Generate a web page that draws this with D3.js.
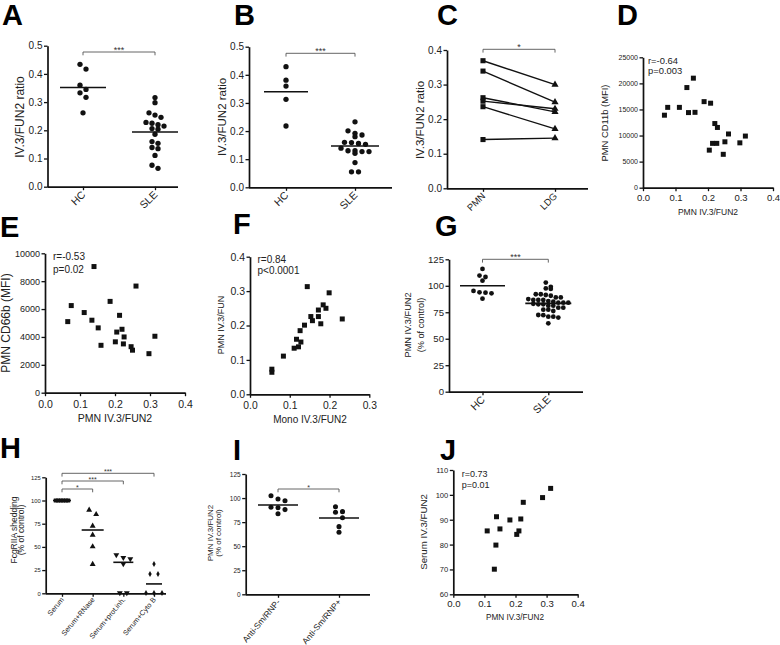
<!DOCTYPE html>
<html>
<head>
<meta charset="utf-8">
<script src="https://cdn.jsdelivr.net/npm/d3@7"></script>
<style>
    body { margin: 0; background: #fff; }
    svg { font-family: "Liberation Sans", Arial, sans-serif; }
</style>
</head>
<body>
<svg id="fig" width="780" height="645"></svg>
<script>
// ---- data ----
const groupCats = ["HC", "SLE"]

const aHC = [0.434, 0.417, 0.360, 0.345, 0.333, 0.317, 0.262]
const aSLE = [0.316, 0.298, 0.262, 0.254, 0.246, 0.228, 0.225, 0.220, 0.215, 0.206, 0.204, 0.186, 0.160, 0.154, 0.139, 0.135, 0.111, 0.076, 0.065]
const aMeans = [0.352, 0.194]

const bHC = [0.429, 0.381, 0.360, 0.313, 0.218]
const bSLE = [0.233, 0.201, 0.192, 0.186, 0.180, 0.160, 0.159, 0.156, 0.153, 0.139, 0.130, 0.130, 0.127, 0.127, 0.121, 0.088, 0.055, 0.055]
const bMeans = [0.340, 0.147]

const cCats = ["PMN", "LDG"]
const cPMN = [0.369, 0.339, 0.262, 0.252, 0.236, 0.141]
const cLDG = [0.300, 0.249, 0.221, 0.230, 0.172, 0.145]

const dX = [0.066, 0.076, 0.112, 0.140, 0.135, 0.155, 0.160, 0.188, 0.208, 0.221, 0.229, 0.214, 0.227, 0.204, 0.252, 0.263, 0.247, 0.298, 0.315]
const dY = [13900, 15400, 15400, 14400, 19200, 21000, 14450, 16500, 16200, 12300, 11550, 8500, 8500, 7200, 8800, 10300, 6400, 8600, 9900]

const eX = [0.065, 0.075, 0.112, 0.134, 0.140, 0.152, 0.160, 0.186, 0.201, 0.205, 0.213, 0.220, 0.226, 0.224, 0.246, 0.250, 0.260, 0.297, 0.314]
const eY = [5100, 6250, 5750, 5200, 9050, 4650, 3400, 6550, 3650, 4350, 5550, 4550, 4000, 3500, 3300, 3050, 7650, 2800, 4050]

const fX = [0.055, 0.055, 0.084, 0.111, 0.122, 0.117, 0.128, 0.126, 0.137, 0.144, 0.153, 0.157, 0.172, 0.172, 0.178, 0.184, 0.191, 0.199, 0.232]
const fY = [0.073, 0.064, 0.111, 0.134, 0.138, 0.160, 0.152, 0.185, 0.201, 0.313, 0.226, 0.214, 0.245, 0.226, 0.205, 0.260, 0.250, 0.295, 0.219]

const gHC = [115.9, 109.6, 108.3, 104.8, 95.1, 93.8, 93.5, 92.9, 87.8]
const gSLE = [103, 99, 97.5, 97, 92, 92, 91.3, 90.6, 89, 89, 87.5, 86.6, 86.6, 86.6, 85.6, 85, 84, 84, 84, 83, 82.5, 82.5, 81.2, 81.2, 79.3, 79.3, 77.4, 77.4, 76.2, 72.4, 72.2, 70.8, 70.8, 70, 64.6]
const gMeans = [100, 83.4]

const hCats = ["Serum", "Serum+RNase", "Serum+prot.inh.", "Serum+Cyto B"]
const hSerum = [100, 100, 100, 100, 100, 100]
const hRNase = [89.8, 85.1, 72.6, 62.9, 50.3, 31.3]
const hProt = [41.3, 38.4, 37.0, 31.6, 0.5, 0.5]
const hCyto = [31.6, 20.8, 20.8, 0.3, 0.3, 0.3]
const hMeans = [100, 68.2, 33.4, 10.1]

const iCats = ["Anti-Sm/RNP-", "Anti-Sm/RNP+"]
const iNeg = [102.5, 99.0, 97.3, 90.4, 90.0, 88.0, 83.8]
const iPos = [91.0, 85.9, 85.2, 79.6, 70.3, 64.4]
const iMeans = [92.8, 79.3]

const jX = [0.109, 0.139, 0.150, 0.137, 0.132, 0.182, 0.204, 0.211, 0.217, 0.225, 0.287, 0.313]
const jY = [85.5, 91.2, 86.3, 79.8, 70.1, 89.9, 84.1, 85.5, 90.3, 97.0, 98.9, 102.6]

const ratioTicks = [0, 0.1, 0.2, 0.3, 0.4, 0.5]
const pctTicks = [0, 25, 50, 75, 100, 125]
const fracTicks = [0, 0.1, 0.2, 0.3, 0.4]

// ---- drawing helpers ----
const svg = d3.select("#fig")
const ink = "#111"

const letter = function (t, x, y) {
    svg.append("text").attr("x", x).attr("y", y)
        .attr("font-size", 29).attr("font-weight", "bold").attr("fill", "#000").text(t)
}

const styleAxis = function (g, fs) {
    g.attr("font-family", null).attr("font-size", fs)
    g.select(".domain").attr("stroke", ink).attr("stroke-width", 1.7)
    g.selectAll(".tick line").attr("stroke", ink).attr("stroke-width", 1.3)
    g.selectAll(".tick text").attr("fill", "#222")
}

const yAxis = function (p, y) {
    const g = svg.append("g").attr("transform", `translate(${p.left},0)`)
        .call(d3.axisLeft(y).tickValues(p.yTicks).tickFormat(d3.format(p.yFmt))
            .tickSize(3.5).tickSizeOuter(0).tickPadding(1.5))
    styleAxis(g, p.yTickFs)
}

const yLabel = function (lines, cy, fs) {
    lines.forEach(l => {
        svg.append("text").attr("transform", `translate(${l.x},${cy}) rotate(-90)`)
            .attr("text-anchor", "middle").attr("dy", "0.35em")
            .attr("font-size", fs).attr("fill", "#222").text(l.text)
    })
}

// GraphPad style scatter: points closer than one dot share a row, centred on the category
const swarm = function (values, y, d, gap) {
    const order = d3.range(values.length).sort((a, b) => values[b] - values[a])
    const rows = []
    order.forEach(i => {
        const row = rows[rows.length - 1]
        if (row && y(values[i]) - y(values[row[0]]) < d) row.push(i)
        else rows.push([i])
    })
    const off = values.map(() => 0)
    rows.forEach(row => row.forEach((i, k) => off[i] = (k - (row.length - 1) / 2) * gap))
    return off
}

const marks = function (data, sym, size, xf, yf, rot) {
    svg.append("g").selectAll("path").data(data).join("path")
        .attr("transform", (d, i) => `translate(${xf(d, i)},${yf(d, i)})` + (rot ? ` rotate(${rot})` : ""))
        .attr("d", d3.symbol(sym, size)).attr("fill", ink)
}

const bracket = function (x1, x2, y, label, fs) {
    svg.append("path").attr("d", `M${x1},${y + 3.3}V${y}H${x2}V${y + 3.3}`)
        .attr("fill", "none").attr("stroke", "#555").attr("stroke-width", 0.9)
    svg.append("text").attr("x", (x1 + x2) / 2).attr("y", y + 1).attr("text-anchor", "middle")
        .attr("font-size", fs).attr("fill", "#333").text(label)
}

const dotPanel = function (p) {
    const y = d3.scaleLinear().domain(p.yDomain).range([p.bottom, p.top])
    const x = d3.scalePoint().domain(p.cats).range(p.catRange)
    yAxis(p, y)

    const gx = svg.append("g").attr("transform", `translate(0,${p.bottom})`)
        .call(d3.axisBottom(x).tickSize(3.5).tickSizeOuter(0))
    styleAxis(gx, p.catFs)
    gx.select(".domain").attr("d", `M${p.left},0.5H${p.right}`)
    gx.selectAll(".tick text").attr("y", 0).attr("dy", "0.35em").attr("text-anchor", "end")
        .attr("transform", `translate(0,${p.catOff}) rotate(${p.catAngle || -45})`)

    p.groups.forEach((grp, gi) => {
        const cx = x(p.cats[gi])
        const off = swarm(grp.values, y, grp.d || 5, grp.gap)
        marks(grp.values, grp.sym, grp.size, (d, i) => cx + off[i], d => y(d), grp.rot)
        if (grp.mean !== undefined) {
            svg.append("line").attr("x1", cx - grp.half).attr("x2", cx + grp.half)
                .attr("y1", y(grp.mean)).attr("y2", y(grp.mean))
                .attr("stroke", ink).attr("stroke-width", 1.6)
        }
    })
    ;(p.brackets || []).forEach(b => bracket(x(p.cats[b.a]), x(p.cats[b.b]), b.y, b.label, p.starFs))
    yLabel(p.yLabels, p.yLabelY, p.yLabelFs)
    return { x, y }
}

const scatterPanel = function (p) {
    const x = d3.scaleLinear().domain(p.xDomain).range([p.left, p.right])
    const y = d3.scaleLinear().domain(p.yDomain).range([p.bottom, p.top])
    yAxis(p, y)
    const gx = svg.append("g").attr("transform", `translate(0,${p.bottom})`)
        .call(d3.axisBottom(x).tickValues(p.xTicks).tickFormat(d3.format(".1f"))
            .tickSize(3.5).tickSizeOuter(0).tickPadding(p.xPad))
    styleAxis(gx, p.xTickFs)

    marks(p.xs, d3.symbolSquare, 25, (d, i) => x(p.xs[i]), (d, i) => y(p.ys[i]))

    svg.append("text").attr("x", p.xLabelX).attr("y", p.xLabelY).attr("text-anchor", "middle")
        .attr("font-size", p.xLabelFs).attr("fill", "#222").text(p.xLabel)
    yLabel(p.yLabels, p.yLabelY, p.yLabelFs)
    p.stats.forEach((s, k) => {
        svg.append("text").attr("x", p.statX).attr("y", p.statY + k * p.statGap)
            .attr("font-size", p.statFs).attr("fill", "#222").text(s)
    })
}

// ---- A ----
letter("A", 2, 25)
dotPanel({
    left: 47.5, right: 178, top: 45.7, bottom: 186.7,
    yDomain: [0, 0.5], yTicks: ratioTicks, yFmt: ".1f", yTickFs: 10,
    cats: groupCats, catRange: [83, 155], catFs: 10.5, catOff: 6,
    groups: [
        { values: aHC, sym: d3.symbolCircle, size: 22, gap: 6, mean: aMeans[0], half: 23 },
        { values: aSLE, sym: d3.symbolCircle, size: 22, gap: 6, mean: aMeans[1], half: 23 }
    ],
    brackets: [{ a: 0, b: 1, y: 52, label: "***" }], starFs: 9,
    yLabels: [{ text: "IV.3/FUN2 ratio", x: 20 }], yLabelY: 117, yLabelFs: 12
})

// ---- B ----
letter("B", 234, 25)
dotPanel({
    left: 249, right: 392, top: 46.7, bottom: 187.3,
    yDomain: [0, 0.5], yTicks: ratioTicks, yFmt: ".1f", yTickFs: 10,
    cats: groupCats, catRange: [286, 355], catFs: 10.5, catOff: 6,
    groups: [
        { values: bHC, sym: d3.symbolCircle, size: 22, gap: 7, mean: bMeans[0], half: 22 },
        { values: bSLE, sym: d3.symbolCircle, size: 22, gap: 7, mean: bMeans[1], half: 24 }
    ],
    brackets: [{ a: 0, b: 1, y: 53.3, label: "***" }], starFs: 9,
    yLabels: [{ text: "IV.3/FUN2 ratio", x: 222 }], yLabelY: 117, yLabelFs: 11.5
})

// ---- C ----
letter("C", 437, 25)
const cScales = dotPanel({
    left: 447, right: 588, top: 50, bottom: 188.3,
    yDomain: [0, 0.4], yTicks: fracTicks, yFmt: ".1f", yTickFs: 10,
    cats: cCats, catRange: [483, 555], catFs: 9.5, catOff: 6,
    groups: [],
    brackets: [{ a: 0, b: 1, y: 49.3, label: "*" }], starFs: 9,
    yLabels: [{ text: "IV.3/FUN2 ratio", x: 420 }], yLabelY: 120, yLabelFs: 11.5
})
svg.append("g").selectAll("line").data(cPMN).join("line")
    .attr("x1", cScales.x("PMN")).attr("x2", cScales.x("LDG"))
    .attr("y1", d => cScales.y(d)).attr("y2", (d, i) => cScales.y(cLDG[i]))
    .attr("stroke", ink).attr("stroke-width", 1.4)
marks(cPMN, d3.symbolSquare, 26, () => cScales.x("PMN"), d => cScales.y(d))
marks(cLDG, d3.symbolTriangle, 22, () => cScales.x("LDG"), d => cScales.y(d))

// ---- D ----
letter("D", 617, 25)
scatterPanel({
    left: 643, right: 773, top: 57.3, bottom: 187.7,
    yDomain: [0, 25000], yTicks: [0, 5000, 10000, 15000, 20000, 25000], yFmt: "d", yTickFs: 7,
    xDomain: [0, 0.4], xTicks: fracTicks, xTickFs: 9.5, xPad: 3,
    xs: dX, ys: dY,
    xLabel: "PMN IV.3/FUN2", xLabelX: 708, xLabelY: 215, xLabelFs: 8.5,
    yLabels: [{ text: "PMN CD11b (MFI)", x: 605 }], yLabelY: 123, yLabelFs: 9.4,
    stats: ["r=-0.64", "p=0.003"], statX: 648, statY: 63.5, statGap: 10.2, statFs: 9.4
})

// ---- E ----
letter("E", 0, 237)
scatterPanel({
    left: 45, right: 185, top: 253.3, bottom: 392.7,
    yDomain: [0, 10000], yTicks: [0, 2000, 4000, 6000, 8000, 10000], yFmt: "d", yTickFs: 9,
    xDomain: [0, 0.4], xTicks: fracTicks, xTickFs: 10.5, xPad: 4,
    xs: eX, ys: eY,
    xLabel: "PMN IV.3/FUN2", xLabelX: 115, xLabelY: 422, xLabelFs: 10.5,
    yLabels: [{ text: "PMN CD66b (MFI)", x: 6 }], yLabelY: 323, yLabelFs: 12,
    stats: ["r=-0.53", "p=0.02"], statX: 53, statY: 259.5, statGap: 13.5, statFs: 10
})

// ---- F ----
letter("F", 233, 234)
scatterPanel({
    left: 250, right: 369.3, top: 256.7, bottom: 394.3,
    yDomain: [0, 0.4], yTicks: fracTicks, yFmt: ".1f", yTickFs: 10.5,
    xDomain: [0, 0.3], xTicks: [0, 0.1, 0.2, 0.3], xTickFs: 10.3, xPad: 4,
    xs: fX, ys: fY,
    xLabel: "Mono IV.3/FUN2", xLabelX: 310, xLabelY: 423, xLabelFs: 10,
    yLabels: [{ text: "PMN IV.3/FUN", x: 221 }], yLabelY: 325, yLabelFs: 9,
    stats: ["r=0.84", "p<0.0001"], statX: 257.5, statY: 263, statGap: 10.7, statFs: 10
})

// ---- G ----
letter("G", 435, 236)
dotPanel({
    left: 449, right: 583, top: 259.3, bottom: 391.7,
    yDomain: [0, 125], yTicks: pctTicks, yFmt: "d", yTickFs: 9.6,
    cats: groupCats, catRange: [482.5, 548.3], catFs: 10.5, catOff: 6,
    groups: [
        { values: gHC, sym: d3.symbolCircle, size: 18, gap: 6, d: 4.5, mean: gMeans[0], half: 22.5 },
        { values: gSLE, sym: d3.symbolCircle, size: 18, gap: 5, d: 4.5, mean: gMeans[1], half: 23 }
    ],
    brackets: [{ a: 0, b: 1, y: 259.3, label: "***" }], starFs: 9,
    yLabels: [{ text: "PMN IV.3/FUN2", x: 408 }, { text: "(% of control)", x: 421 }], yLabelY: 325, yLabelFs: 9.2
})

// ---- H ----
letter("H", 0, 458)
dotPanel({
    left: 45.7, right: 166, top: 477.3, bottom: 593.3,
    yDomain: [0, 125], yTicks: pctTicks, yFmt: "d", yTickFs: 5.8,
    cats: hCats, catRange: [62, 154], catFs: 7.2, catOff: 5, catAngle: -50,
    groups: [
        { values: hSerum, sym: d3.symbolSquare, size: 16, gap: 2.5, d: 4.5, mean: hMeans[0], half: 9 },
        { values: hRNase, sym: d3.symbolTriangle, size: 15, gap: 7, d: 4.5, mean: hMeans[1], half: 11 },
        { values: hProt, sym: d3.symbolTriangle, size: 15, gap: 7, d: 4.5, mean: hMeans[2], half: 10, rot: 180 },
        { values: hCyto, sym: d3.symbolDiamond, size: 10, gap: 8, d: 4.5, mean: hMeans[3], half: 8 }
    ],
    brackets: [
        { a: 0, b: 1, y: 489, label: "*" },
        { a: 0, b: 2, y: 481, label: "***" },
        { a: 0, b: 3, y: 473.3, label: "***" }
    ], starFs: 7,
    yLabels: [{ text: "FcgRIIA shedding", x: 14 }, { text: "(% of control)", x: 21.5 }], yLabelY: 530, yLabelFs: 8.5
})

// ---- I ----
letter("I", 233, 460)
dotPanel({
    left: 245.7, right: 370, top: 474, bottom: 594.3,
    yDomain: [0, 125], yTicks: pctTicks, yFmt: "d", yTickFs: 6.5,
    cats: iCats, catRange: [278, 339], catFs: 8.5, catOff: 6, catAngle: -50,
    groups: [
        { values: iNeg, sym: d3.symbolCircle, size: 20, gap: 7, d: 5.5, mean: iMeans[0], half: 20 },
        { values: iPos, sym: d3.symbolCircle, size: 20, gap: 7, d: 5.5, mean: iMeans[1], half: 20 }
    ],
    brackets: [{ a: 0, b: 1, y: 489, label: "*" }], starFs: 7,
    yLabels: [{ text: "PMN IV.3/FUN2", x: 210 }, { text: "(% of control)", x: 218 }], yLabelY: 533, yLabelFs: 8
})

// ---- J ----
letter("J", 440, 460)
scatterPanel({
    left: 453.3, right: 577.7, top: 470, bottom: 594.3,
    yDomain: [60, 110], yTicks: [60, 70, 80, 90, 100, 110], yFmt: "d", yTickFs: 7.6,
    xDomain: [0, 0.4], xTicks: fracTicks, xTickFs: 9.6, xPad: 2.5,
    xs: jX, ys: jY,
    xLabel: "PMN IV.3/FUN2", xLabelX: 515, xLabelY: 620, xLabelFs: 8.2,
    yLabels: [{ text: "Serum IV.3/FUN2", x: 424 }], yLabelY: 532, yLabelFs: 9.7,
    stats: ["r=0.73", "p=0.01"], statX: 461.7, statY: 476.8, statGap: 10.7, statFs: 9
})
</script>
</body>
</html>
